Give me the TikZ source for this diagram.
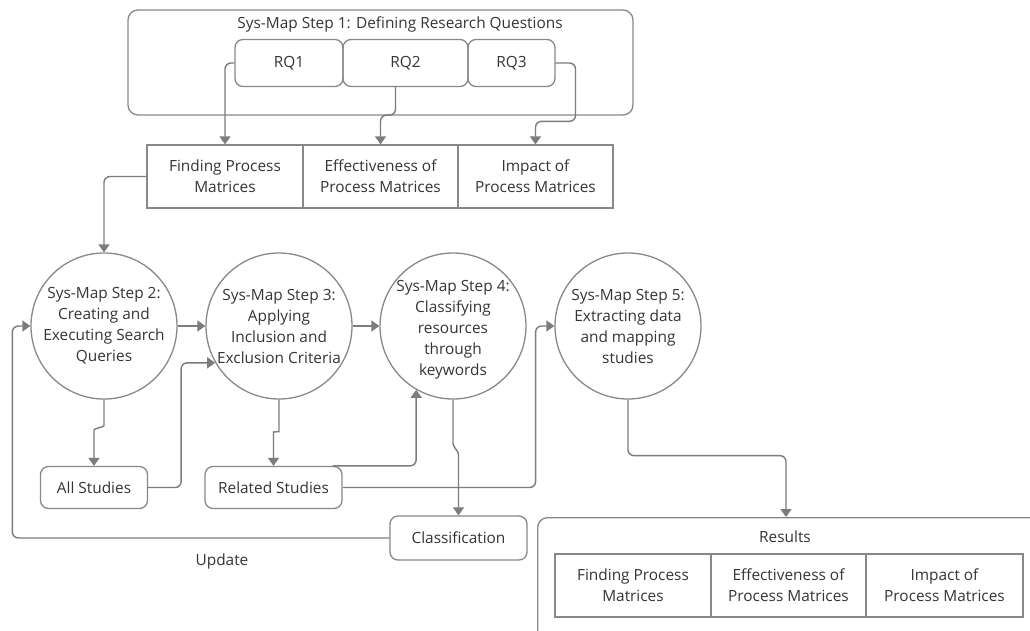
\documentclass[tikz,border=0pt]{standalone}
\usepackage{fontspec}
\setmainfont{Open Sans}
\usetikzlibrary{arrows.meta,calc}
\definecolor{linegray}{HTML}{7C7C7C}
\definecolor{boxgray}{HTML}{888888}
\definecolor{txtgray}{HTML}{353535}
\begin{document}
\begin{tikzpicture}[x=1pt,y=-1pt,
  every node/.style={text=txtgray,font=\fontsize{15.4}{21}\selectfont,inner sep=0pt,align=center},
  conn/.style={draw=linegray,line width=1.4pt,rounded corners=6pt},
  arr/.style={conn,-{Triangle[width=11pt,length=8pt]}},
  frame/.style={draw=boxgray,line width=1.3pt,rounded corners=10pt},
  rqbox/.style={draw=boxgray,line width=1.3pt,rounded corners=8pt,minimum height=47pt},
  cell/.style={draw=boxgray,line width=1.3pt,minimum height=63pt},
  pill/.style={draw=boxgray,line width=1.3pt,rounded corners=8pt},
  stepcircle/.style={draw=boxgray,line width=1.3pt,circle,minimum size=146pt}
]
\useasboundingbox (0,0) rectangle (1030,630);
\clip (0,0) rectangle (1030,630);
\fill[white] (0,0) rectangle (1030,630);

% Step 1: research questions
\node[frame,minimum width=505pt,minimum height=105pt] (s1) at (380.5,62.5) {};
\node (s1t) at (400,24) {Sys-Map Step 1: Defining Research Questions};
\node[rqbox,minimum width=108pt] (rq1) at (289,63) {RQ1};
\node[rqbox,minimum width=125pt] (rq2) at (405.5,63) {RQ2};
\node[rqbox,minimum width=87pt] (rq3) at (511.5,63) {RQ3};

% topics of the questions
\node[cell,minimum width=156pt] (f1) at (225,176.5) {Finding Process\\Matrices};
\node[cell,minimum width=155pt] (f2) at (380.5,176.5) {Effectiveness of\\Process Matrices};
\node[cell,minimum width=155pt] (f3) at (535.5,176.5) {Impact of\\Process Matrices};

% steps 2 to 5
\node[stepcircle] (s2) at (104,326) {};
\node[stepcircle] (s3) at (279,326) {};
\node[stepcircle] (s4) at (453,326) {};
\node[stepcircle] (s5) at (628,326) {};
\node (s2t) at (s2) {Sys-Map Step 2:\\Creating and\\Executing Search\\Queries};
\node (s3t) at (s3) {Sys-Map Step 3:\\Applying\\Inclusion and\\Exclusion Criteria};
\node (s4t) at ([yshift=-4pt]s4) {Sys-Map Step 4:\\Classifying\\resources\\through\\keywords};
\node (s5t) at (s5) {Sys-Map Step 5:\\Extracting data\\and mapping\\studies};

% intermediate results
\node[pill,minimum width=107pt,minimum height=42pt] (as) at (94,487.5) {All Studies};
\node[pill,minimum width=137pt,minimum height=42pt] (rs) at (273.5,487.5) {Related Studies};
\node[pill,minimum width=137pt,minimum height=44pt] (cl) at (458.5,538) {Classification};
\node (upd) at (222,561) {Update};

% final results
\node[frame,minimum width=510pt,minimum height=125pt,anchor=north west] (res) at (537,517) {};
\node (rest) at (785,537) {Results};
\node[cell,minimum width=156pt] (r1) at (633,585.5) {Finding Process\\Matrices};
\node[cell,minimum width=155pt] (r2) at (788.5,585.5) {Effectiveness of\\Process Matrices};
\node[cell,minimum width=157pt] (r3) at (944.5,585.5) {Impact of\\Process Matrices};
\coordinate (resin) at (786,517);

% connectors
\draw[arr] (rq1.west) -| (f1.north);
\draw[arr] ([xshift=-10pt]rq2.south) -- ++(0,28) -| (f2.north);
\draw[arr] (rq3.east) -| ($(f3.north)+(40,-23)$) -| (f3.north);
\draw[arr] (f1.west) -| (s2.north);
\draw[arr] (s2.east) -- (s3.west);
\draw[arr] (s3.east) -- (s4.west);
\draw[arr] (s2.south) -- ++(0,20) to[out=-90,in=90] ($(as.north)+(0,-30)$) -- (as.north);
\draw[arr] (as.east) -- ++(33,0) |- (s3.210);
\draw[arr] (s3.south) -- ++(0,26) to[out=-90,in=90] ($(rs.north)+(0,-28)$) -- (rs.north);
\draw[arr] ([xshift=-10pt]rs.north east) -| (s4.240);
\draw[arr] (rs.east) -- ++(193,0) |- (s5.west);
\draw[arr] (s4.south) -- ++(0,38) to[out=-90,in=90] ($(cl.north)+(0,-55)$) -- (cl.north);
\draw[arr] (s5.south) -- ++(0,56) -| (resin);
\draw[arr] (cl.west) -- ++(-377,0) |- (s2.west);
\end{tikzpicture}
\end{document}
